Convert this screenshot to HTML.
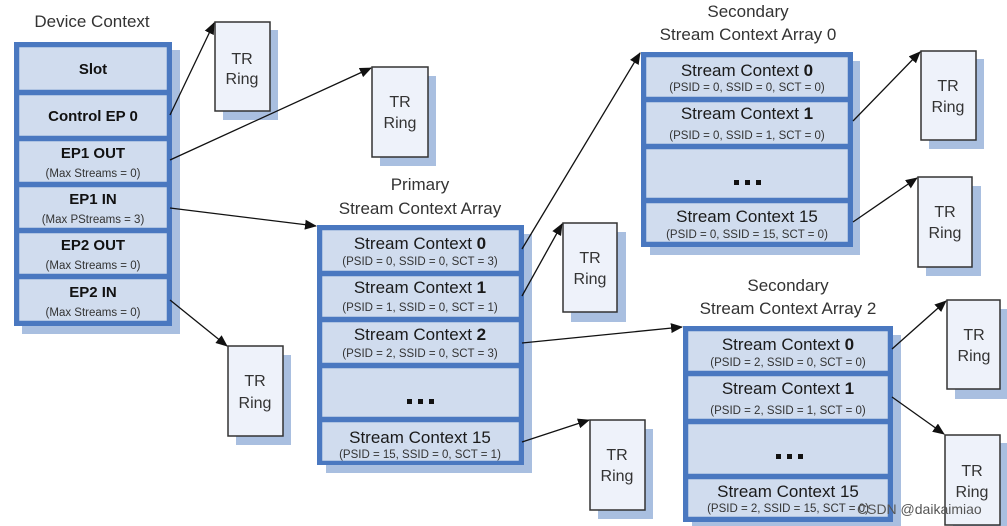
<!DOCTYPE html>
<html><head><meta charset="utf-8"><style>
html,body{margin:0;padding:0;background:#fff;}
svg{display:block;}
text{font-family:"Liberation Sans",Arial,sans-serif;}
.h{font-size:17px;fill:#333;text-anchor:middle;}
.t{font-size:17px;fill:#1a1a1a;text-anchor:middle;}
.b{font-size:15px;fill:#111;font-weight:bold;text-anchor:middle;}
.s{font-size:11.5px;fill:#333;text-anchor:middle;}
.r{font-size:16px;fill:#333;text-anchor:middle;}
.row{fill:#d0dcee;stroke:#4a78c0;stroke-width:2.5;}
.out{fill:#4a78c0;}
.sh{fill:#a9bfe0;}
.tr{fill:#eef2fa;stroke:#333;stroke-width:1.5;}
.ln{stroke:#111;stroke-width:1.3;fill:none;marker-end:url(#a);}
</style></head><body>
<svg width="1007" height="526" viewBox="0 0 1007 526">
<defs><marker id="a" markerWidth="12" markerHeight="10" refX="11" refY="5" orient="auto" markerUnits="userSpaceOnUse"><path d="M0,0 L12,5 L0,10 z" fill="#111"/></marker></defs>

<text x="92" y="27" class="h">Device Context</text>
<rect x="22" y="50" width="158" height="284" class="sh"/>
<rect x="14" y="42" width="158" height="284" class="out"/>
<rect x="18" y="46" width="150" height="45" class="row"/>
<rect x="18" y="94" width="150" height="43" class="row"/>
<rect x="18" y="140" width="150" height="43" class="row"/>
<rect x="18" y="186" width="150" height="43" class="row"/>
<rect x="18" y="232" width="150" height="43" class="row"/>
<rect x="18" y="278" width="150" height="44" class="row"/>
<text x="93" y="74" class="b">Slot</text>
<text x="93" y="121" class="b">Control EP 0</text>
<text x="93" y="158" class="b">EP1 OUT</text><text x="93" y="177" class="s">(Max Streams = 0)</text>
<text x="93" y="204" class="b">EP1 IN</text><text x="93" y="223" class="s">(Max PStreams = 3)</text>
<text x="93" y="250" class="b">EP2 OUT</text><text x="93" y="269" class="s">(Max Streams = 0)</text>
<text x="93" y="297" class="b">EP2 IN</text><text x="93" y="316" class="s">(Max Streams = 0)</text>

<text x="420" y="190" class="h">Primary</text>
<text x="420" y="214" class="h">Stream Context Array</text>
<rect x="326" y="234" width="206" height="239" class="sh"/>
<rect x="317" y="225" width="207" height="240" class="out"/>
<rect x="321" y="229" width="199" height="43" class="row"/>
<rect x="321" y="275" width="199" height="43" class="row"/>
<rect x="321" y="321" width="199" height="43" class="row"/>
<rect x="321" y="367" width="199" height="51" class="row"/>
<rect x="321" y="421" width="199" height="41" class="row"/>
<text x="420" y="249" class="t">Stream Context <tspan font-weight="bold">0</tspan></text><text x="420" y="265" class="s">(PSID = 0, SSID = 0, SCT = 3)</text>
<text x="420" y="293" class="t">Stream Context <tspan font-weight="bold">1</tspan></text><text x="420" y="311" class="s">(PSID = 1, SSID = 0, SCT = 1)</text>
<text x="420" y="340" class="t">Stream Context <tspan font-weight="bold">2</tspan></text><text x="420" y="357" class="s">(PSID = 2, SSID = 0, SCT = 3)</text>
<rect x="407" y="399" width="5" height="5" fill="#111"/><rect x="418" y="399" width="5" height="5" fill="#111"/><rect x="429" y="399" width="5" height="5" fill="#111"/>
<text x="420" y="443" class="t">Stream Context 15</text><text x="420" y="458" class="s">(PSID = 15, SSID = 0, SCT = 1)</text>

<text x="748" y="17" class="h">Secondary</text>
<text x="748" y="40" class="h">Stream Context Array 0</text>
<rect x="650" y="61" width="210" height="194" class="sh"/>
<rect x="641" y="52" width="212" height="195" class="out"/>
<rect x="645" y="56" width="204" height="42" class="row"/>
<rect x="645" y="101" width="204" height="44" class="row"/>
<rect x="645" y="148" width="204" height="51" class="row"/>
<rect x="645" y="202" width="204" height="41" class="row"/>
<text x="747" y="76" class="t">Stream Context <tspan font-weight="bold">0</tspan></text><text x="747" y="91" class="s">(PSID = 0, SSID = 0, SCT = 0)</text>
<text x="747" y="119" class="t">Stream Context <tspan font-weight="bold">1</tspan></text><text x="747" y="139" class="s">(PSID = 0, SSID = 1, SCT = 0)</text>
<rect x="734" y="180" width="5" height="5" fill="#111"/><rect x="745" y="180" width="5" height="5" fill="#111"/><rect x="756" y="180" width="5" height="5" fill="#111"/>
<text x="747" y="222" class="t">Stream Context 15</text><text x="747" y="238" class="s">(PSID = 0, SSID = 15, SCT = 0)</text>

<text x="788" y="291" class="h">Secondary</text>
<text x="788" y="314" class="h">Stream Context Array 2</text>
<rect x="692" y="335" width="209" height="194" class="sh"/>
<rect x="683" y="326" width="210" height="196" class="out"/>
<rect x="687" y="330" width="202" height="42" class="row"/>
<rect x="687" y="375" width="202" height="45" class="row"/>
<rect x="687" y="423" width="202" height="52" class="row"/>
<rect x="687" y="478" width="202" height="40" class="row"/>
<text x="788" y="350" class="t">Stream Context <tspan font-weight="bold">0</tspan></text><text x="788" y="366" class="s">(PSID = 2, SSID = 0, SCT = 0)</text>
<text x="788" y="394" class="t">Stream Context <tspan font-weight="bold">1</tspan></text><text x="788" y="414" class="s">(PSID = 2, SSID = 1, SCT = 0)</text>
<rect x="776" y="454" width="5" height="5" fill="#111"/><rect x="787" y="454" width="5" height="5" fill="#111"/><rect x="798" y="454" width="5" height="5" fill="#111"/>
<text x="788" y="497" class="t">Stream Context 15</text><text x="788" y="512" class="s">(PSID = 2, SSID = 15, SCT = 0)</text>

<g>
<rect x="223" y="30" width="55" height="90" class="sh"/><rect x="215" y="22" width="55" height="89" class="tr"/>
<text x="242" y="64" class="r">TR</text><text x="242" y="84" class="r">Ring</text>
<rect x="380" y="76" width="56" height="90" class="sh"/><rect x="372" y="67" width="56" height="90" class="tr"/>
<text x="400" y="107" class="r">TR</text><text x="400" y="128" class="r">Ring</text>
<rect x="236" y="355" width="55" height="90" class="sh"/><rect x="228" y="346" width="55" height="90" class="tr"/>
<text x="255" y="386" class="r">TR</text><text x="255" y="408" class="r">Ring</text>
<rect x="571" y="232" width="55" height="90" class="sh"/><rect x="563" y="223" width="54" height="89" class="tr"/>
<text x="590" y="263" class="r">TR</text><text x="590" y="284" class="r">Ring</text>
<rect x="598" y="429" width="55" height="90" class="sh"/><rect x="590" y="420" width="55" height="90" class="tr"/>
<text x="617" y="460" class="r">TR</text><text x="617" y="481" class="r">Ring</text>
<rect x="929" y="59" width="55" height="90" class="sh"/><rect x="921" y="51" width="55" height="89" class="tr"/>
<text x="948" y="91" class="r">TR</text><text x="948" y="112" class="r">Ring</text>
<rect x="926" y="186" width="55" height="90" class="sh"/><rect x="918" y="177" width="54" height="90" class="tr"/>
<text x="945" y="217" class="r">TR</text><text x="945" y="238" class="r">Ring</text>
<rect x="955" y="309" width="55" height="90" class="sh"/><rect x="947" y="300" width="53" height="89" class="tr"/>
<text x="974" y="340" class="r">TR</text><text x="974" y="361" class="r">Ring</text>
<rect x="953" y="443" width="55" height="90" class="sh"/><rect x="945" y="435" width="55" height="90" class="tr"/>
<text x="972" y="476" class="r">TR</text><text x="972" y="497" class="r">Ring</text>
</g>

<line x1="170" y1="115" x2="214" y2="23" class="ln"/>
<line x1="170" y1="160" x2="371" y2="68" class="ln"/>
<line x1="170" y1="208" x2="316" y2="226" class="ln"/>
<line x1="170" y1="300" x2="227" y2="346" class="ln"/>
<line x1="522" y1="249" x2="640" y2="53" class="ln"/>
<line x1="522" y1="296" x2="562" y2="224" class="ln"/>
<line x1="522" y1="343" x2="682" y2="327" class="ln"/>
<line x1="522" y1="442" x2="589" y2="420" class="ln"/>
<line x1="853" y1="121" x2="920" y2="52" class="ln"/>
<line x1="853" y1="222" x2="917" y2="178" class="ln"/>
<line x1="892" y1="349" x2="946" y2="301" class="ln"/>
<line x1="892" y1="397" x2="944" y2="434" class="ln"/>

<text x="857" y="514" font-size="14" fill="#555">CSDN @daikaimiao</text>
</svg>
</body></html>
